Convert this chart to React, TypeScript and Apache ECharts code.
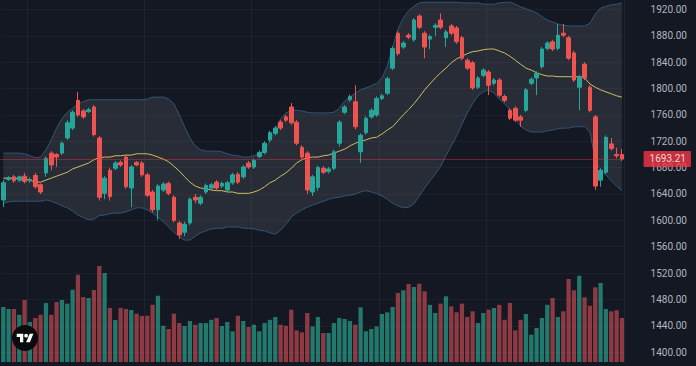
import React, { useEffect, useRef } from "react";
import * as echarts from "echarts";

// Daily candles, 117 sessions
const opens = [
  1631, 1662, 1666, 1661, 1667, 1660, 1668, 1654, 1672, 1702,
  1700, 1702, 1725, 1740, 1782, 1766, 1765, 1772, 1725, 1641,
  1676, 1679, 1688, 1696, 1649, 1688, 1687, 1669, 1643, 1616,
  1646, 1656, 1635, 1596, 1582, 1596, 1635, 1626, 1643, 1649,
  1658, 1652, 1646, 1657, 1670, 1666, 1687, 1681, 1697, 1703,
  1722, 1732, 1749, 1757, 1772, 1749, 1711, 1702, 1643, 1650,
  1679, 1674, 1679, 1717, 1764, 1783, 1780, 1704, 1733, 1757,
  1760, 1785, 1793, 1831, 1884, 1863, 1881, 1874, 1910, 1884,
  1875, 1893, 1904, 1877, 1895, 1892, 1877, 1843, 1839, 1802,
  1820, 1825, 1808, 1813, 1788, 1767, 1770, 1757, 1767, 1808,
  1816, 1833, 1861, 1871, 1861, 1884, 1877, 1854, 1802, 1837,
  1802, 1757, 1661, 1673, 1716, 1700, 1700,
];
const closes = [
  1657, 1665, 1660, 1666, 1659, 1662, 1651, 1643, 1694, 1684,
  1696, 1717, 1748, 1764, 1760, 1757, 1768, 1730, 1635, 1664,
  1636, 1687, 1684, 1651, 1681, 1684, 1669, 1638, 1616, 1652,
  1655, 1641, 1600, 1578, 1594, 1632, 1631, 1635, 1653, 1654,
  1649, 1656, 1657, 1669, 1658, 1681, 1681, 1691, 1703, 1717,
  1733, 1740, 1740, 1752, 1748, 1717, 1696, 1646, 1666, 1680,
  1673, 1678, 1704, 1749, 1772, 1788, 1742, 1729, 1755, 1767,
  1785, 1789, 1815, 1861, 1853, 1869, 1878, 1904, 1893, 1863,
  1879, 1896, 1893, 1886, 1884, 1871, 1846, 1831, 1801, 1816,
  1828, 1805, 1813, 1790, 1782, 1755, 1752, 1752, 1798, 1814,
  1823, 1860, 1869, 1860, 1881, 1881, 1846, 1813, 1818, 1816,
  1767, 1652, 1676, 1726, 1709, 1698, 1693.21,
];
const lows = [
  1620, 1660, 1657, 1658, 1656, 1657, 1648, 1640, 1666, 1676,
  1681, 1699, 1722, 1737, 1757, 1754, 1763, 1727, 1630, 1632,
  1630, 1676, 1681, 1648, 1620, 1682, 1666, 1635, 1612, 1600,
  1643, 1638, 1597, 1572, 1576, 1593, 1626, 1623, 1640, 1646,
  1646, 1649, 1643, 1654, 1655, 1663, 1678, 1678, 1694, 1700,
  1719, 1729, 1737, 1749, 1745, 1714, 1693, 1640, 1637, 1645,
  1670, 1671, 1676, 1712, 1761, 1780, 1738, 1687, 1730, 1754,
  1757, 1782, 1790, 1828, 1850, 1860, 1875, 1871, 1890, 1846,
  1860, 1880, 1890, 1863, 1881, 1868, 1843, 1828, 1798, 1799,
  1817, 1790, 1805, 1787, 1779, 1752, 1749, 1742, 1764, 1805,
  1790, 1830, 1858, 1857, 1858, 1878, 1843, 1810, 1767, 1813,
  1764, 1646, 1651, 1670, 1706, 1694, 1690,
];
const highs = [
  1661, 1667, 1669, 1668, 1672, 1665, 1672, 1656, 1697, 1705,
  1702, 1720, 1752, 1767, 1795, 1769, 1771, 1775, 1728, 1667,
  1680, 1690, 1691, 1700, 1684, 1690, 1690, 1672, 1646, 1655,
  1658, 1659, 1638, 1599, 1598, 1635, 1640, 1638, 1656, 1657,
  1661, 1659, 1660, 1672, 1673, 1684, 1690, 1694, 1706, 1720,
  1736, 1743, 1752, 1760, 1778, 1752, 1714, 1705, 1669, 1683,
  1682, 1681, 1707, 1752, 1775, 1791, 1805, 1732, 1758, 1770,
  1788, 1792, 1818, 1864, 1887, 1872, 1884, 1907, 1913, 1887,
  1882, 1899, 1914, 1889, 1898, 1895, 1880, 1846, 1842, 1819,
  1831, 1828, 1816, 1816, 1791, 1770, 1773, 1760, 1801, 1817,
  1826, 1863, 1872, 1874, 1898, 1898, 1880, 1857, 1821, 1840,
  1805, 1760, 1679, 1729, 1725, 1710, 1708,
];
// Volume in millions
const volumes = [
  933, 899, 899, 800, 1051, 678, 746, 800, 1000, 800,
  1017, 1051, 990, 1226, 1480, 1102, 1085, 1221, 1628, 1509,
  916, 712, 916, 899, 882, 820, 780, 785, 970, 1124,
  614, 560, 820, 661, 610, 695, 632, 661, 661, 716,
  746, 610, 678, 521, 785, 695, 594, 632, 521, 661,
  716, 763, 632, 614, 887, 537, 503, 831, 604, 763,
  492, 492, 661, 746, 729, 695, 632, 927, 521, 560,
  604, 814, 842, 933, 1170, 1216, 1323, 1272, 1328, 1199,
  970, 831, 990, 1114, 944, 842, 990, 763, 860, 661,
  831, 887, 916, 970, 716, 1000, 537, 716, 814, 463,
  577, 746, 970, 1085, 763, 860, 1408, 1216, 1464, 1097,
  955, 1267, 1340, 899, 860, 877, 746.126,
];
// Bollinger bands
const upper = [
  1702, 1702, 1702, 1702, 1701, 1698, 1695, 1696, 1707, 1722,
  1740, 1754, 1764, 1770, 1777, 1780, 1783, 1783, 1783, 1783,
  1783, 1783, 1783, 1783, 1783, 1783, 1783, 1784, 1787, 1787,
  1787, 1784, 1777, 1760, 1742, 1725, 1713, 1707, 1705, 1705,
  1705, 1704, 1701, 1699, 1698, 1696, 1696, 1698, 1701, 1707,
  1720, 1737, 1754, 1763, 1767, 1767, 1766, 1764, 1763, 1763,
  1763, 1763, 1764, 1770, 1781, 1787, 1793, 1798, 1801, 1804,
  1808, 1816, 1834, 1862, 1890, 1907, 1918, 1925, 1930, 1931,
  1931, 1931, 1931, 1931, 1931, 1931, 1930, 1930, 1930, 1930,
  1928, 1928, 1928, 1930, 1931, 1931, 1928, 1924, 1921, 1918,
  1915, 1909, 1904, 1901, 1898, 1896, 1895, 1895, 1895, 1895,
  1899, 1913, 1922, 1925, 1927, 1928, 1930,
];
const middle = [
  1664, 1664, 1664, 1663, 1663, 1661, 1658, 1658, 1661, 1664,
  1667, 1670, 1673, 1678, 1681, 1684, 1687, 1692, 1695, 1696,
  1696, 1698, 1698, 1699, 1699, 1701, 1701, 1701, 1699, 1696,
  1693, 1689, 1682, 1675, 1666, 1658, 1652, 1649, 1648, 1646,
  1645, 1645, 1643, 1643, 1641, 1641, 1641, 1643, 1646, 1651,
  1657, 1661, 1667, 1672, 1679, 1687, 1692, 1695, 1696, 1696,
  1698, 1699, 1702, 1705, 1708, 1713, 1717, 1720, 1722, 1725,
  1726, 1731, 1737, 1742, 1751, 1760, 1768, 1777, 1787, 1798,
  1807, 1816, 1824, 1831, 1839, 1845, 1849, 1853, 1856, 1857,
  1859, 1860, 1860, 1857, 1854, 1849, 1843, 1837, 1831, 1828,
  1824, 1821, 1819, 1819, 1818, 1818, 1818, 1818, 1818, 1816,
  1807, 1802, 1798, 1795, 1792, 1789, 1787,
];
const lower = [
  1626, 1628, 1629, 1629, 1629, 1629, 1629, 1629, 1631, 1629,
  1626, 1622, 1619, 1614, 1608, 1604, 1601, 1602, 1607, 1608,
  1610, 1611, 1611, 1613, 1616, 1619, 1619, 1616, 1611, 1605,
  1598, 1590, 1582, 1575, 1570, 1570, 1576, 1581, 1584, 1587,
  1588, 1588, 1590, 1590, 1590, 1588, 1588, 1587, 1585, 1584,
  1581, 1579, 1585, 1594, 1605, 1611, 1616, 1620, 1623, 1626,
  1629, 1632, 1634, 1635, 1637, 1638, 1640, 1643, 1645, 1643,
  1641, 1637, 1632, 1626, 1622, 1619, 1620, 1625, 1637, 1649,
  1660, 1670, 1682, 1698, 1713, 1728, 1746, 1763, 1777, 1789,
  1795, 1798, 1793, 1784, 1777, 1768, 1755, 1743, 1737, 1734,
  1734, 1734, 1736, 1737, 1739, 1740, 1740, 1742, 1742, 1742,
  1734, 1692, 1676, 1669, 1660, 1652, 1645,
];
const priceTicks = [1400, 1440, 1480, 1520, 1560, 1600, 1640, 1680, 1720, 1760, 1800, 1840, 1880, 1920];
const monthStarts = [5, 27, 47, 71, 91];
const lastPriceLabel = "1693.21";
const lastVolumeLabel = "746.126M";

const UP = "#26a69a";
const DOWN = "#ef5350";
const VOL_UP = "#22786c";
const VOL_DOWN = "#8e3a43";
const BG = "#141823";

const logoPath =
  "M0 4h14v18H7V11H0z M16 8a4 4 0 1 0 8 0a4 4 0 1 0 -8 0z M28 22h-8l7.5-18h8z";
let logoRegistered = false;

export default function App() {
  const ref = useRef<HTMLDivElement>(null);
  useEffect(() => {
    if (!ref.current) return;
    if (!logoRegistered) {
      echarts.graphic.registerShape("logo", echarts.graphic.extendPath(logoPath, {}));
      logoRegistered = true;
    }
    const chart = echarts.init(ref.current, null, { renderer: "svg" });
    const categories = opens.map((_, i) => String(i + 1));
    const candles = opens.map((o, i) => [o, closes[i], lows[i], highs[i]]);
    const bandWidth = upper.map((u, i) => +(u - lower[i]).toFixed(2));
    const volData = volumes.map((v, i) => ({
      value: v,
      itemStyle: { color: closes[i] >= opens[i] ? VOL_UP : VOL_DOWN },
    }));
    const lastIdx = closes.length - 1;
    const tagLabel = {
      show: true,
      position: "end" as const,
      distance: 19,
      backgroundColor: "#f23645",
      color: "#ffffff",
      fontSize: 10,
      fontFamily: "Roboto, sans-serif",
      padding: [3, 5, 3, 6],
      borderRadius: 1,
    };
    chart.setOption({
      animation: false,
      backgroundColor: BG,
      grid: { left: 0.6, right: 71.4, top: 0, bottom: 4 },
      xAxis: {
        type: "category",
        data: categories,
        boundaryGap: true,
        axisLine: { show: false },
        axisTick: { show: false },
        axisLabel: { show: false },
        splitLine: {
          show: true,
          interval: (idx: number) => monthStarts.includes(idx),
          lineStyle: { color: "rgba(255,255,255,0.05)", width: 1 },
        },
      },
      yAxis: [
        {
          type: "value",
          position: "right",
          min: 1385,
          max: 1934.4,
          axisLine: { show: false },
          axisTick: { show: false },
          splitLine: { show: false },
          axisLabel: {
            customValues: priceTicks,
            formatter: (v: number) => v.toFixed(2),
            color: "#b2b5be",
            fontSize: 10,
            fontFamily: "Roboto, sans-serif",
            margin: 26,
          },
        },
        { type: "value", min: 0, max: 6140, show: false },
      ],
      series: [
        {
          name: "bbBase",
          type: "line",
          data: lower,
          stack: "bb",
          symbol: "none",
          silent: true,
          lineStyle: { opacity: 0 },
          z: 1,
        },
        {
          name: "bbFill",
          type: "line",
          data: bandWidth,
          stack: "bb",
          symbol: "none",
          silent: true,
          lineStyle: { opacity: 0 },
          areaStyle: { color: "rgba(120,123,134,0.2)", opacity: 1 },
          z: 1,
        },
        {
          name: "Upper",
          type: "line",
          data: upper,
          symbol: "none",
          silent: true,
          lineStyle: { color: "#2f5577", width: 1 },
          z: 2,
        },
        {
          name: "Lower",
          type: "line",
          data: lower,
          symbol: "none",
          silent: true,
          lineStyle: { color: "#2f5577", width: 1 },
          z: 2,
        },
        {
          name: "Basis",
          type: "line",
          data: middle,
          symbol: "none",
          silent: true,
          lineStyle: { color: "#cdbf5c", width: 1 },
          z: 3,
          markLine: {
            silent: true,
            symbol: ["none", "none"],
            label: { show: false },
            lineStyle: { color: "rgba(255,255,255,0.035)", type: "solid", width: 1 },
            data: priceTicks.map((v) => ({ yAxis: v })),
          },
        },
        {
          name: "Volume",
          type: "bar",
          yAxisIndex: 1,
          data: volData,
          barWidth: "80%",
          silent: true,
          z: 1,
          markLine: {
            silent: true,
            symbol: ["none", "none"],
            lineStyle: { opacity: 0 },
            label: { ...tagLabel, formatter: lastVolumeLabel },
            data: [{ yAxis: volumes[lastIdx] }],
          },
        },
        {
          name: "Price",
          type: "candlestick",
          data: candles,
          barWidth: 4,
          z: 4,
          itemStyle: {
            color: UP,
            color0: DOWN,
            borderColor: UP,
            borderColor0: DOWN,
            borderWidth: 1,
          },
          markLine: {
            silent: true,
            symbol: ["none", "none"],
            lineStyle: { color: "#f23645", type: "dotted", width: 1, opacity: 0.8 },
            label: { ...tagLabel, formatter: lastPriceLabel },
            data: [{ yAxis: closes[lastIdx] }],
          },
        },
      ],
      graphic: [
        {
          type: "circle",
          shape: { cx: 25, cy: 338, r: 13 },
          style: { fill: "#0a0b0e" },
          z: 10,
        },
        {
          type: "logo",
          x: 16.7,
          y: 331.9,
          scaleX: 0.47,
          scaleY: 0.47,
          style: { fill: "#ffffff" },
          z: 11,
        },
      ],
    });
    return () => chart.dispose();
  }, []);
  return (
    <div
      ref={ref}
      style={{ position: "fixed", left: 0, top: 0, width: 696, height: 366, background: BG }}
    />
  );
}
